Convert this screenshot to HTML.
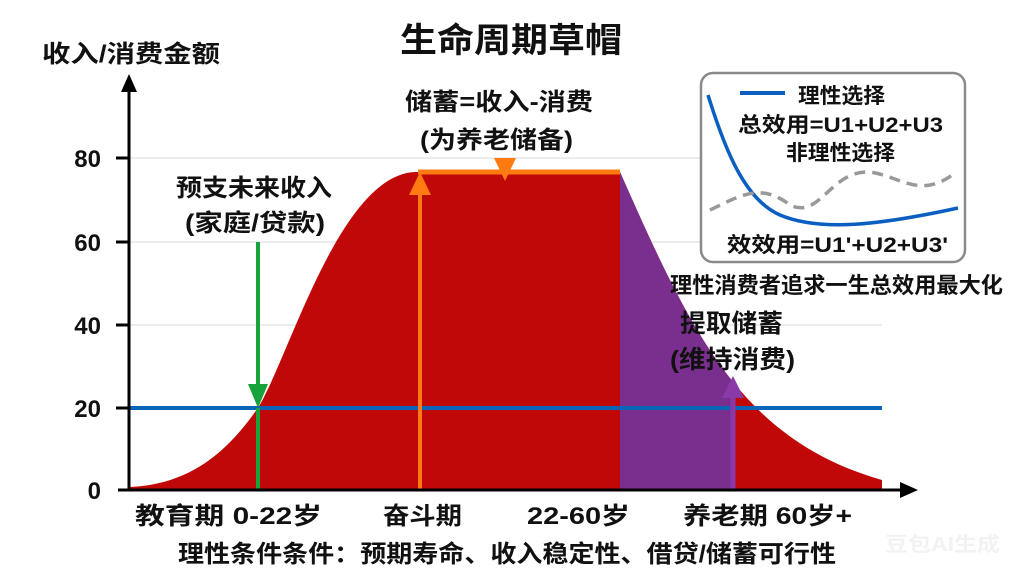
<!DOCTYPE html>
<html><head><meta charset="utf-8"><style>
html,body{margin:0;padding:0;background:#fff;}
svg text{font-family:"Liberation Sans","Noto Sans CJK SC",sans-serif;font-weight:bold;fill:#111;}
</style></head><body>
<svg width="1024" height="575" viewBox="0 0 1024 575" xmlns="http://www.w3.org/2000/svg">
<defs><clipPath id="pc"><rect x="620" y="0" width="113" height="500"/></clipPath></defs>
<g stroke="#e4e6ea" stroke-width="1.5">
<line x1="130" y1="158" x2="882" y2="158"/><line x1="130" y1="242" x2="882" y2="242"/>
<line x1="130" y1="325" x2="882" y2="325"/></g>
<path d="M130,487 C200,484 235,440 258,408 C290,355 340,175 415,172 L620,172 C690,330 740,440 882,480 L882,490 L130,490 Z" fill="#c00808"/>
<path d="M130,487 C200,484 235,440 258,408 C290,355 340,175 415,172 L620,172 C690,330 740,440 882,480 L882,490 L130,490 Z" fill="#7a2f8e" clip-path="url(#pc)"/>
<line x1="129" y1="408" x2="882" y2="408" stroke="#0a64b8" stroke-width="4"/>
<line x1="258" y1="242" x2="258" y2="395" stroke="#17a23a" stroke-width="4"/>
<polygon points="248,384 268,384 258,408" fill="#17a23a"/>
<line x1="258" y1="408" x2="258" y2="490" stroke="#17a23a" stroke-width="4"/>
<line x1="420" y1="490" x2="420" y2="185" stroke="#ff7a10" stroke-width="4"/>
<polygon points="409,195 431,195 420,172" fill="#ff7a10"/>
<line x1="418" y1="172" x2="620" y2="172" stroke="#ff7a10" stroke-width="5"/>
<polygon points="494,158 516,158 505,181" fill="#ff7a10"/>
<line x1="733" y1="490" x2="733" y2="392" stroke="#8a3aa8" stroke-width="5"/>
<polygon points="722,398 744,398 733,376" fill="#8a3aa8"/>
<line x1="129" y1="490" x2="129" y2="88" stroke="#000" stroke-width="3"/>
<polygon points="121,92 137,92 129,74" fill="#000"/>
<line x1="118" y1="490" x2="905" y2="490" stroke="#000" stroke-width="3"/>
<polygon points="900,482 900,498 918,490" fill="#000"/>
<g stroke="#000" stroke-width="3"><line x1="116" y1="158" x2="129" y2="158"/><line x1="116" y1="242" x2="129" y2="242"/><line x1="116" y1="325" x2="129" y2="325"/><line x1="116" y1="408" x2="129" y2="408"/></g>
<g font-size="24" text-anchor="end">
<text x="101" y="167">80</text><text x="101" y="251">60</text><text x="101" y="334">40</text><text x="101" y="417">20</text><text x="101" y="499">0</text></g>
<g lengthAdjust="spacingAndGlyphs">
<text x="400" y="52" font-size="34" textLength="222" lengthAdjust="spacingAndGlyphs">生命周期草帽</text>
<text x="42" y="62" font-size="24" textLength="178" lengthAdjust="spacingAndGlyphs">收入/消费金额</text>
<text x="405" y="110" font-size="24" textLength="188" lengthAdjust="spacingAndGlyphs">储蓄=收入-消费</text>
<text x="420" y="148" font-size="24" textLength="153" lengthAdjust="spacingAndGlyphs">(为养老储备)</text>
<text x="176" y="196" font-size="24" textLength="156" lengthAdjust="spacingAndGlyphs">预支未来收入</text>
<text x="185" y="231" font-size="24" textLength="140" lengthAdjust="spacingAndGlyphs">(家庭/贷款)</text>
<text x="670" y="293" font-size="22" textLength="333" lengthAdjust="spacingAndGlyphs">理性消费者追求一生总效用最大化</text>
<text x="680" y="332" font-size="25" textLength="103" lengthAdjust="spacingAndGlyphs">提取储蓄</text>
<text x="670" y="368" font-size="25" textLength="125" lengthAdjust="spacingAndGlyphs">(维持消费)</text>
<text x="135" y="524" font-size="24" textLength="187" lengthAdjust="spacingAndGlyphs">教育期 0-22岁</text>
<text x="383" y="524" font-size="24" textLength="79" lengthAdjust="spacingAndGlyphs">奋斗期</text>
<text x="527" y="524" font-size="24" textLength="103" lengthAdjust="spacingAndGlyphs">22-60岁</text>
<text x="683" y="524" font-size="24" textLength="169" lengthAdjust="spacingAndGlyphs">养老期 60岁+</text>
<text x="178" y="562" font-size="24" textLength="658" lengthAdjust="spacingAndGlyphs">理性条件条件：预期寿命、收入稳定性、借贷/储蓄可行性</text>
<text x="885" y="551" font-size="20" textLength="115" lengthAdjust="spacingAndGlyphs" style="fill:#f2f2f2">豆包AI生成</text>
</g>
<rect x="701" y="73" width="264" height="189" rx="12" fill="#fff" stroke="#8a8a8a" stroke-width="2.5"/>
<path d="M708,95 C725,150 745,200 780,215 C820,232 880,225 958,208" fill="none" stroke="#0a5fc0" stroke-width="3.5"/>
<path d="M710,210 C740,196 760,182 790,205 C820,220 830,170 870,172 C900,176 920,200 955,173" fill="none" stroke="#999" stroke-width="3.5" stroke-dasharray="11,7"/>
<line x1="740" y1="93" x2="785" y2="93" stroke="#0a5fc0" stroke-width="4"/>
<text x="798" y="103" font-size="21" textLength="87" lengthAdjust="spacingAndGlyphs">理性选择</text>
<text x="738" y="132" font-size="21" textLength="205" lengthAdjust="spacingAndGlyphs">总效用=U1+U2+U3</text>
<text x="786" y="160" font-size="21" textLength="109" lengthAdjust="spacingAndGlyphs">非理性选择</text>
<text x="727" y="252" font-size="21" textLength="221" lengthAdjust="spacingAndGlyphs">效效用=U1'+U2+U3'</text>
</svg>
</body></html>
